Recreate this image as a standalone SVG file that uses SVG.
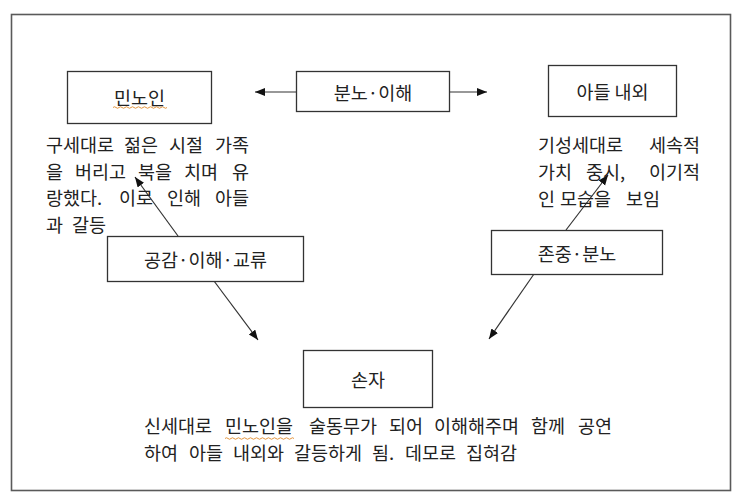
<svg xmlns="http://www.w3.org/2000/svg" width="743" height="499" viewBox="0 0 743 499">
<defs>
<style>
.frame{fill:none;stroke:#5a5a5a;stroke-width:1.6}
.box{fill:#fff;stroke:#333;stroke-width:1.3}
.lbl{font-family:"Noto Sans CJK KR","Noto Sans",sans-serif;font-size:18.5px;fill:#222;text-anchor:middle;dominant-baseline:central}
.txt{font-family:"Noto Sans CJK KR","Noto Sans",sans-serif;font-size:18.5px;fill:#222}
.edge{stroke:#333;stroke-width:1.2;fill:none;marker-end:url(#ah)}
.squig{fill:none;stroke:#e08a2a;stroke-width:0.9}
</style>
<marker id="ah" markerUnits="userSpaceOnUse" markerWidth="11" markerHeight="9" refX="10" refY="4" orient="auto">
<path d="M0,0 L10,4 L0,8 z" fill="#111"/>
</marker>
</defs>
<rect width="743" height="499" fill="#fff"/>
<rect class="frame" x="11.5" y="14.5" width="719" height="476"/>

<g id="connectors">
<line class="edge" x1="296" y1="92" x2="255" y2="92"/>
<line class="edge" x1="449" y1="92" x2="487" y2="92"/>
<line class="edge" x1="178" y1="236" x2="135" y2="177"/>
<line class="edge" x1="214" y1="281" x2="258" y2="340"/>
<line class="edge" x1="566" y1="230" x2="608" y2="175"/>
<line class="edge" x1="534" y1="274" x2="489" y2="339"/>
</g>

<g id="node-minnoin">
<rect class="box" x="67.5" y="71.5" width="144" height="52"/>
<text class="lbl" x="139.5" y="97">민노인</text>
<path class="squig" d="M113,107.5 q1.5,-1.5 3,0 t3,0 t3,0 t3,0 t3,0 t3,0 t3,0 t3,0 t3,0 t3,0 t3,0 t3,0 t3,0 t3,0 t3,0 t3,0 t3,0 t3,0"/>
</g>

<g id="node-anger-understand">
<rect class="box" x="296.5" y="71.5" width="153" height="40"/>
<text class="lbl" x="373" y="91.5">분노·이해</text>
</g>

<g id="node-son-couple">
<rect class="box" x="548.5" y="65.5" width="128" height="51"/>
<text class="lbl" x="612.5" y="91">아들 내외</text>
</g>

<g id="node-empathy">
<rect class="box" x="107.5" y="236.5" width="196" height="45"/>
<text class="lbl" x="205.5" y="259">공감·이해·교류</text>
</g>

<g id="node-respect-anger">
<rect class="box" x="491.5" y="230.5" width="171" height="44"/>
<text class="lbl" x="577" y="252.5">존중·분노</text>
</g>

<g id="node-grandson">
<rect class="box" x="303.5" y="350.5" width="129" height="57"/>
<text class="lbl" x="368" y="379">손자</text>
</g>

<g id="desc-minnoin" class="txt">
<text y="152"><tspan x="46">구세대로</tspan><tspan x="124">젊은</tspan><tspan x="169">시절</tspan><tspan x="215">가족</tspan></text>
<text y="178.5"><tspan x="46">을</tspan><tspan x="75">버리고</tspan><tspan x="138">북을</tspan><tspan x="184">치며</tspan><tspan x="232">유</tspan></text>
<text y="205"><tspan x="46">랑했다.</tspan><tspan x="119">이로</tspan><tspan x="167">인해</tspan><tspan x="215">아들</tspan></text>
<text y="231.5"><tspan x="46">과</tspan><tspan x="72">갈등</tspan></text>
</g>

<g id="desc-son-couple" class="txt">
<text y="152"><tspan x="538">기성세대로</tspan><tspan x="649">세속적</tspan></text>
<text y="179"><tspan x="538">가치</tspan><tspan x="586">중시,</tspan><tspan x="649">이기적</tspan></text>
<text y="206"><tspan x="538">인</tspan><tspan x="560">모습을</tspan><tspan x="626">보임</tspan></text>
</g>

<g id="desc-grandson" class="txt">
<text y="433"><tspan x="144">신세대로</tspan><tspan x="225">민노인을</tspan><tspan x="309">술동무가</tspan><tspan x="389">되어</tspan><tspan x="434">이해해주며</tspan><tspan x="531">함께</tspan><tspan x="578">공연</tspan></text>
<text y="459.5"><tspan x="144">하여</tspan><tspan x="189">아들</tspan><tspan x="233">내외와</tspan><tspan x="294">갈등하게</tspan><tspan x="372">됨.</tspan><tspan x="405">데모로</tspan><tspan x="466">집혀감</tspan></text>
<path class="squig" d="M225,438.5 q1.5,-1.5 3,0 t3,0 t3,0 t3,0 t3,0 t3,0 t3,0 t3,0 t3,0 t3,0 t3,0 t3,0 t3,0 t3,0 t3,0 t3,0 t3,0 t3,0 t3,0 t3,0 t3,0 t3,0 t3,0"/>
</g>
</svg>
